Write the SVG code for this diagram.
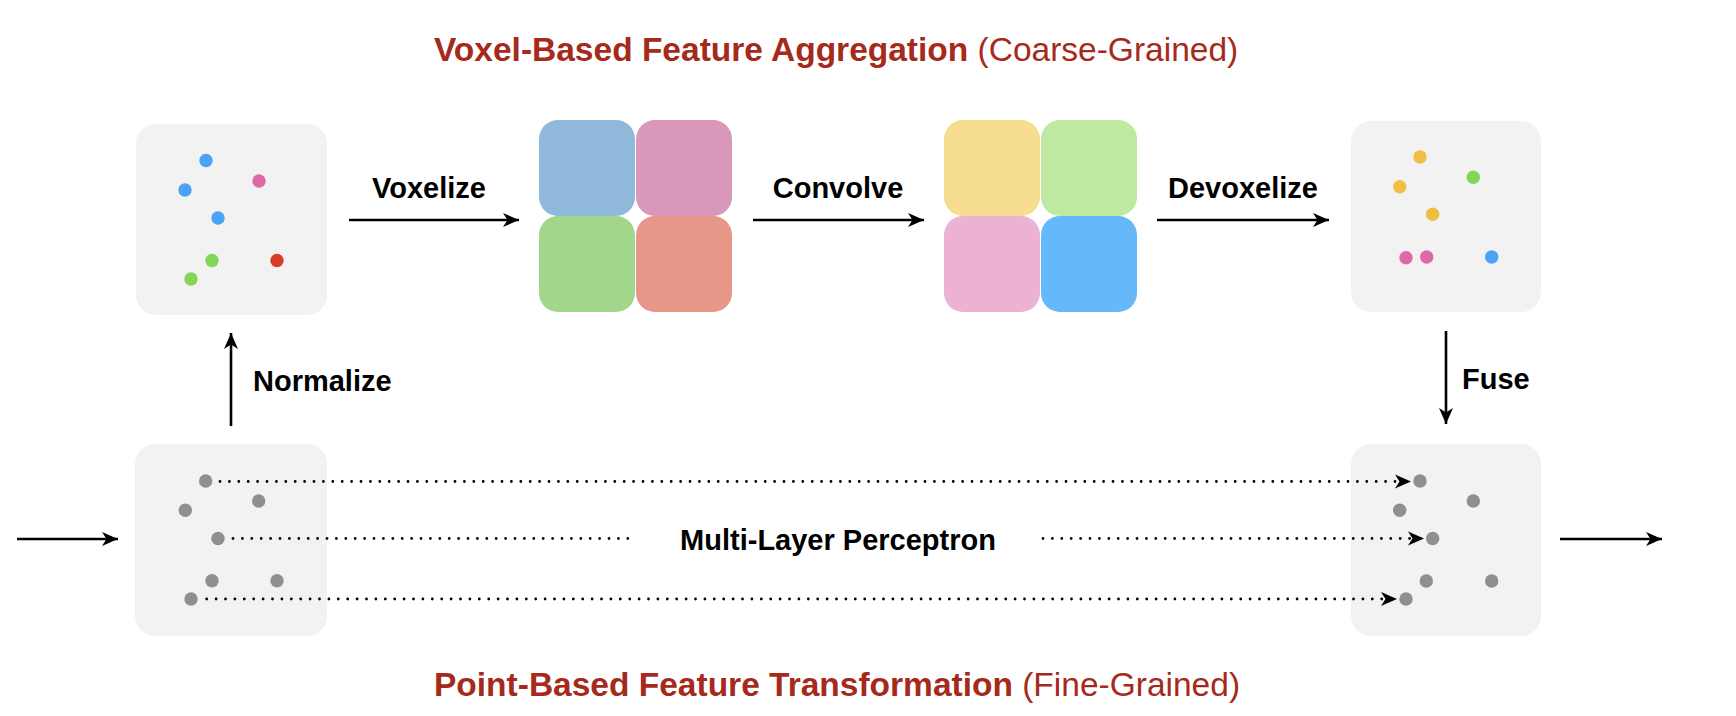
<svg xmlns="http://www.w3.org/2000/svg" width="1736" height="716" viewBox="0 0 1736 716">
<style>
text{font-family:"Liberation Sans",Arial,Helvetica,sans-serif;}
.title{font-size:33.5px;fill:#a52a1c;}
.b{font-weight:bold;}
.lbl{font-size:29px;font-weight:bold;fill:#000;}
.box{fill:#f2f2f2;}
.g{fill:#8f8f8f;}
.blue{fill:#4aa3f7;}.pink{fill:#dd6aa5;}.green{fill:#83d653;}.red{fill:#d93d28;}.yel{fill:#f0bd45;}
.arr{stroke:#000;stroke-width:2.6;fill:none;marker-end:url(#ah);}
.dot{stroke:#000;stroke-width:2.8;fill:none;stroke-linecap:round;stroke-dasharray:0 9.4;}
.head{stroke:none;fill:none;marker-end:url(#ah);}
</style>
<defs>
<marker id="ah" markerUnits="userSpaceOnUse" markerWidth="17" markerHeight="15" refX="16" refY="7" orient="auto" viewBox="0 0 17 14">
<path d="M0,0 L16,7 L0,14 L4.5,7 Z" fill="#000"/>
</marker>
</defs>

<text class="title" x="434" y="61"><tspan class="b">Voxel-Based Feature Aggregation</tspan> <tspan>(Coarse-Grained)</tspan></text>
<text class="title" x="434" y="696"><tspan class="b">Point-Based Feature Transformation</tspan> <tspan>(Fine-Grained)</tspan></text>

<g id="points-in">
<rect class="box" x="136" y="124" width="191" height="191" rx="20"/>
<circle class="blue" cx="206" cy="160.5" r="6.7"/>
<circle class="pink" cx="259" cy="181" r="6.7"/>
<circle class="blue" cx="185" cy="190" r="6.7"/>
<circle class="blue" cx="218" cy="218" r="6.7"/>
<circle class="green" cx="212" cy="260.5" r="6.7"/>
<circle class="red" cx="277" cy="260.5" r="6.7"/>
<circle class="green" cx="191" cy="279" r="6.7"/>
</g>

<g id="voxels-in">
<rect x="539" y="120" width="96" height="96" rx="19" fill="#8fb8db"/>
<rect x="636" y="120" width="96" height="96" rx="19" fill="#d997ba"/>
<rect x="539" y="216" width="96" height="96" rx="19" fill="#a2d78b"/>
<rect x="636" y="216" width="96" height="96" rx="19" fill="#e79787"/>
</g>

<g id="voxels-out">
<rect x="944" y="120" width="96" height="96" rx="19" fill="#f6dd8f"/>
<rect x="1041" y="120" width="96" height="96" rx="19" fill="#bfe9a0"/>
<rect x="944" y="216" width="96" height="96" rx="19" fill="#ebb2d1"/>
<rect x="1041" y="216" width="96" height="96" rx="19" fill="#65b8f9"/>
</g>

<g id="points-devox">
<rect class="box" x="1351" y="121" width="190" height="191" rx="20"/>
<circle class="yel" cx="1420" cy="157" r="6.7"/>
<circle class="green" cx="1473.3" cy="177.3" r="6.7"/>
<circle class="yel" cx="1399.7" cy="186.7" r="6.7"/>
<circle class="yel" cx="1432.7" cy="214.3" r="6.7"/>
<circle class="pink" cx="1406" cy="257.7" r="6.7"/>
<circle class="pink" cx="1426.7" cy="257" r="6.7"/>
<circle class="blue" cx="1491.7" cy="257" r="6.7"/>
</g>

<g id="points-fine-in">
<rect class="box" x="135" y="444" width="192" height="192" rx="20"/>
<circle class="g" cx="205.7" cy="481" r="6.7"/>
<circle class="g" cx="258.7" cy="501" r="6.7"/>
<circle class="g" cx="185.3" cy="510.3" r="6.7"/>
<circle class="g" cx="218" cy="538.5" r="6.7"/>
<circle class="g" cx="212" cy="580.7" r="6.7"/>
<circle class="g" cx="277" cy="580.7" r="6.7"/>
<circle class="g" cx="191" cy="599" r="6.7"/>
</g>

<g id="points-fine-out">
<rect class="box" x="1351" y="444" width="190" height="192" rx="20"/>
<circle class="g" cx="1420" cy="481" r="6.7"/>
<circle class="g" cx="1473.3" cy="501" r="6.7"/>
<circle class="g" cx="1399.7" cy="510.3" r="6.7"/>
<circle class="g" cx="1432.7" cy="538.5" r="6.7"/>
<circle class="g" cx="1426.3" cy="581" r="6.7"/>
<circle class="g" cx="1491.7" cy="581" r="6.7"/>
<circle class="g" cx="1406" cy="599" r="6.7"/>
</g>

<g id="connectors">
<line class="arr" x1="349" y1="220" x2="519" y2="220"/>
<line class="arr" x1="753" y1="220" x2="924" y2="220"/>
<line class="arr" x1="1157" y1="220" x2="1329" y2="220"/>
<line class="arr" x1="231" y1="426" x2="231" y2="333"/>
<line class="arr" x1="1446" y1="331" x2="1446" y2="424"/>
<line class="arr" x1="17" y1="539" x2="118" y2="539"/>
<line class="arr" x1="1560" y1="539" x2="1662" y2="539"/>
<line class="dot" x1="220" y1="481.5" x2="1398" y2="481.5"/>
<line class="head" x1="1396" y1="481.5" x2="1411" y2="481.5"/>
<line class="dot" x1="233" y1="538.5" x2="630" y2="538.5"/>
<line class="dot" x1="1043" y1="538.5" x2="1411" y2="538.5"/>
<line class="head" x1="1408" y1="538.5" x2="1424" y2="538.5"/>
<line class="dot" x1="206.7" y1="599" x2="1384" y2="599"/>
<line class="head" x1="1382" y1="599" x2="1397" y2="599"/>
</g>

<g id="labels">
<text class="lbl" x="429" y="198" text-anchor="middle">Voxelize</text>
<text class="lbl" x="838" y="198" text-anchor="middle">Convolve</text>
<text class="lbl" x="1243" y="198" text-anchor="middle">Devoxelize</text>
<text class="lbl" x="253" y="391">Normalize</text>
<text class="lbl" x="1462" y="389">Fuse</text>
<text class="lbl" x="838" y="550" text-anchor="middle">Multi-Layer Perceptron</text>
</g>
</svg>
